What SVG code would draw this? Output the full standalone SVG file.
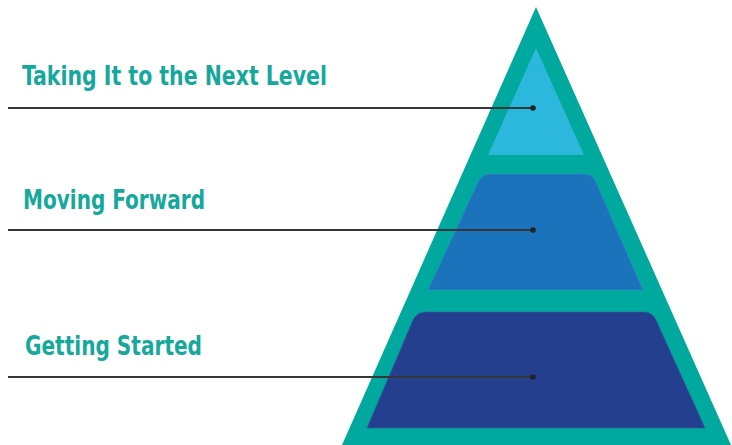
<svg xmlns="http://www.w3.org/2000/svg" width="732" height="445" viewBox="0 0 732 445">
<style>
.lbl{font-family:"DejaVu Sans Condensed","Liberation Sans",Arial,sans-serif;font-weight:bold;font-size:26.5px;fill:#16a89c}
.ln{stroke:#35363a;stroke-width:1.8;fill:none}
.dot{fill:#222326}
</style>
<rect width="732" height="445" fill="#ffffff"/>
<g id="pyramid">
<polygon points="536,7 342,445 731,445" fill="#00a99d"/>
</g>
<g id="level-top">
<polygon points="536,48 488,155 584,155" fill="#2cb7dc"/>
</g>
<g id="level-middle">
<path d="M428,290 L478,182 Q482,174 490,174 L585,174 Q592,174 596,182 L643,290 Z" fill="#1b74bb" stroke="#3a8cc8" stroke-width="0.6"/>
</g>
<g id="level-bottom">
<path d="M367,428 L413,320 Q417,312 426,312 L644,312 Q652,312 656,320 L705,428 Z" fill="#233f8e" stroke="#3d58a0" stroke-width="0.6"/>
</g>
<g id="labels">
<text class="lbl" x="22" y="85" textLength="305" lengthAdjust="spacingAndGlyphs">Taking It to the Next Level</text>
<text class="lbl" x="23" y="209" textLength="182" lengthAdjust="spacingAndGlyphs">Moving Forward</text>
<text class="lbl" x="25" y="355" textLength="177" lengthAdjust="spacingAndGlyphs">Getting Started</text>
</g>
<g id="connectors">
<line class="ln" x1="8" y1="108" x2="533" y2="108"/>
<circle class="dot" cx="533" cy="108" r="2.8"/>
<line class="ln" x1="8" y1="230" x2="533" y2="230"/>
<circle class="dot" cx="533" cy="230" r="2.8"/>
<line class="ln" x1="8" y1="377" x2="533" y2="377"/>
<circle class="dot" cx="533" cy="377" r="2.8"/>
</g>
</svg>
